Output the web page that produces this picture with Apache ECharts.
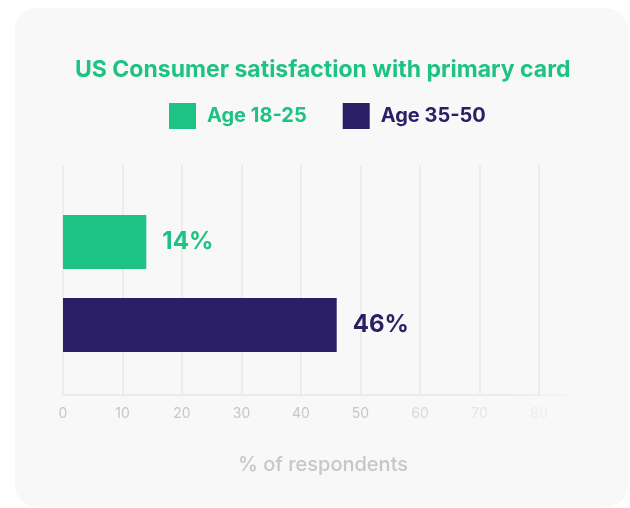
<!DOCTYPE html>
<html>
<head>
<meta charset="utf-8">
<script src="https://cdn.jsdelivr.net/npm/echarts@6/dist/echarts.min.js"></script>
<style>
  html, body { margin: 0; padding: 0; background: #ffffff; }
  #card {
    position: absolute; left: 15px; top: 8px; width: 613px; height: 499px;
    background: #f8f8f8; border-radius: 22px;
  }
  #chart { position: absolute; left: 0; top: 0; width: 630px; height: 508px; }
</style>
</head>
<body>
<div id="card"></div>
<div id="chart"></div>
<script>
// Age groups and share of respondents satisfied with their primary card (%)
const groups = ['Age 18-25', 'Age 35-50'];
const satisfied = [14, 46];
const groupColors = ['#1dc383', '#2a1f66'];
const tickValues = [0, 10, 20, 30, 40, 50, 60, 70, 80];
// tick labels fade out towards the right end of the axis
const tickColors = ['#c6c6cb', '#c6c6cb', '#c6c6cb', '#c6c6cb', '#c6c6cb', '#c6c6cb', '#d9d9dd', '#e5e5e8', '#eeeeef'];
// the axis line runs a little past the last tick before fading out
const axisEnd = 87.4;

const FONT = 'Inter, Roboto, sans-serif';
const chart = echarts.init(document.getElementById('chart'), null, { renderer: 'canvas' });

const series = groups.map((name, i) => ({
  name: name,
  type: 'bar',
  xAxisIndex: 0,
  yAxisIndex: 0,
  data: [satisfied[i]],
  barWidth: 54,
  barGap: '54%',
  itemStyle: { color: groupColors[i] },
  label: {
    show: true,
    position: 'right',
    distance: 16,
    formatter: '{c}%',
    color: groupColors[i],
    fontFamily: FONT,
    fontWeight: 'bold',
    fontSize: 24
  },
  silent: true
}));

chart.setOption({
  animation: false,
  backgroundColor: 'transparent',
  title: {
    text: 'US Consumer satisfaction with primary card',
    left: 70,
    top: 54,
    textStyle: { color: '#1dc383', fontFamily: FONT, fontWeight: 'bold', fontSize: 23 }
  },
  legend: {
    top: 98,
    left: 164,
    itemWidth: 27,
    itemHeight: 26,
    itemGap: 36,
    icon: 'rect',
    selectedMode: false,
    data: groups.map((name, i) => ({
      name: name,
      textStyle: { color: groupColors[i], fontFamily: FONT, fontWeight: 'bold', fontSize: 20 }
    })),
    textStyle: { padding: [0, 0, 0, 6] }
  },
  grid: [
    // bars
    { left: 63, right: 91, top: 172, bottom: 113 },
    // grid lines, axis line, tick labels and axis name
    { left: 63, right: 47, top: 165, bottom: 113 }
  ],
  xAxis: [
    {
      type: 'value',
      gridIndex: 0,
      min: tickValues[0],
      max: tickValues[tickValues.length - 1],
      show: false
    },
    {
      type: 'value',
      gridIndex: 1,
      min: tickValues[0],
      max: axisEnd,
      interval: 10,
      axisLine: {
        show: true,
        lineStyle: {
          width: 2,
          color: new echarts.graphic.LinearGradient(63, 0, 583, 0, [
            { offset: 0, color: '#ebebeb' },
            { offset: 0.86, color: '#ebebeb' },
            { offset: 1, color: 'rgba(235,235,235,0)' }
          ], true)
        }
      },
      axisTick: { show: false },
      splitLine: {
        show: true,
        showMaxLine: false,
        lineStyle: { color: '#e8e8e8', width: 1.5 }
      },
      axisLabel: {
        margin: 12,
        showMaxLabel: false,
        fontFamily: FONT,
        fontSize: 14,
        color: (v) => tickColors[tickValues.indexOf(Number(v))] || 'rgba(0,0,0,0)'
      },
      name: '% of respondents',
      nameLocation: 'middle',
      nameGap: 60,
      nameTextStyle: { color: '#c6c6cb', fontFamily: FONT, fontSize: 20, fontWeight: 500 }
    }
  ],
  yAxis: [
    { type: 'category', gridIndex: 0, data: [''], inverse: true, show: false },
    { type: 'category', gridIndex: 1, data: [''], show: false }
  ],
  series: series
});
</script>
</body>
</html>
